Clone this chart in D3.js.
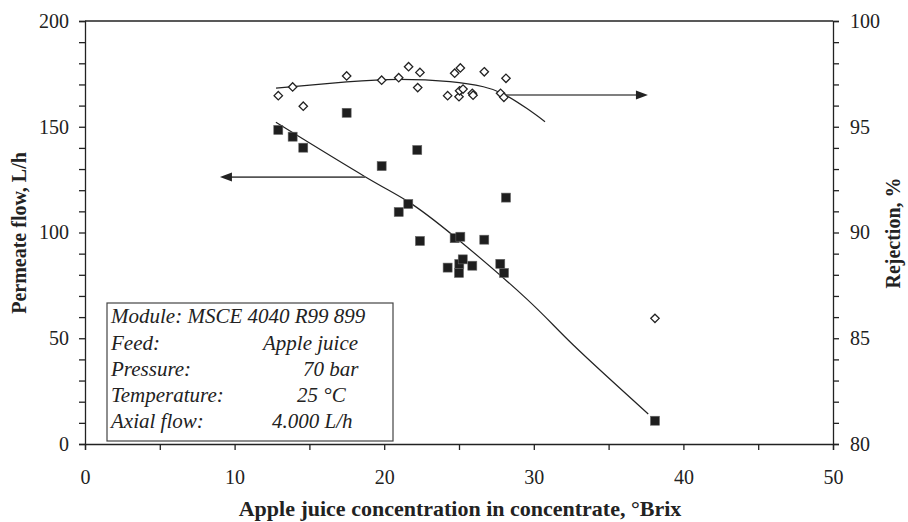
<!DOCTYPE html>
<html>
<head>
<meta charset="utf-8">
<script src="https://cdn.jsdelivr.net/npm/d3@7"></script>
<style>
  body { margin: 0; background: #fff; }
  svg text { font-family: "Liberation Serif", "Times New Roman", serif; fill: #222; }
  .axis path, .axis line { stroke: #222; stroke-width: 1.3; }
  .axis text { font-size: 20px; }
  .axisTitle { font-size: 20px; font-weight: bold; }
  .note { font-size: 21px; font-style: italic; }
</style>
</head>
<body>
<div id="chart"></div>
<script>
// samples: Brix, permeate flow (L/h)
var flowBrix = [12.92, 13.88, 14.59, 17.49, 19.83, 20.97, 21.61, 22.21, 22.39, 24.24, 24.71,
  25.09, 25.02, 25.0, 25.25, 25.89, 26.69, 27.76, 28.01, 28.14, 38.1];
var flow = [148.5, 145.3, 140.1, 156.6, 131.4, 109.7, 113.5, 139.0, 96.0, 83.4, 97.3,
  98.0, 85.1, 80.9, 87.3, 84.3, 96.6, 85.2, 80.9, 116.5, 11.0];

// samples: Brix, rejection (%)
var rejBrix = [12.92, 13.88, 14.59, 17.49, 19.83, 20.97, 21.63, 22.39, 22.24, 24.24, 24.71,
  25.09, 25.0, 25.04, 25.27, 25.89, 25.94, 26.69, 27.78, 28.0, 28.14, 38.1];
var rejection = [96.47, 96.88, 95.97, 97.40, 97.20, 97.32, 97.84, 97.57, 96.85, 96.47, 97.53,
  97.78, 96.42, 96.70, 96.78, 96.58, 96.49, 97.60, 96.58, 96.39, 97.29, 85.94];

// trend curves
var flowTrendBrix = [12.76, 18.72, 21.6, 24.71, 29.52, 32.64, 37.65];
var flowTrend = [152.1, 126.4, 114.6, 98.0, 68.6, 46.8, 14.2];
var rejTrendBrix = [12.77, 17.49, 21.0, 24.4, 26.63, 27.97, 29.52, 30.75];
var rejTrend = [96.83, 97.12, 97.24, 97.13, 96.89, 96.55, 95.87, 95.24];

// arrows: [from, to] in Brix, at a level on their own axis
var flowArrowBrix = [18.72, 9.02], flowArrowLevel = 126.2;
var rejArrowBrix = [28.07, 37.63], rejArrowLevel = 96.5;

var noteLabels = ["Feed:", "Pressure:", "Temperature:", "Axial flow:"];
var noteValues = ["Apple juice", "70 bar", "25 \u00B0C", "4.000 L/h"];
var noteValueX = [263, 303, 297, 272];

var svgWidth = 908;
var svgHeight = 522;

var margin = { top: 21, right: 75, bottom: 78, left: 85 };
var width = svgWidth - margin.left - margin.right;
var height = svgHeight - margin.top - margin.bottom;

var svg = d3.select("#chart")
  .append("svg")
  .attr("width", svgWidth)
  .attr("height", svgHeight);

var chartGroup = svg.append("g")
  .attr("transform", `translate(${margin.left}, ${margin.top})`);

var x = d3.scaleLinear().domain([0, 50]).range([0, width]);
var yLeft = d3.scaleLinear().domain([0, 200]).range([height, 0]);
var yRight = d3.scaleLinear().domain([80, 100]).range([height, 0]);

// top frame line
chartGroup.append("line")
  .attr("x1", 0).attr("x2", width)
  .attr("y1", 0).attr("y2", 0)
  .attr("stroke", "#222").attr("stroke-width", 1.3);

var bottomAxis = d3.axisBottom(x)
  .tickValues(d3.range(0, 51, 5))
  .tickFormat(d => d % 10 === 0 ? d : "")
  .tickSizeOuter(0).tickSize(6).tickPadding(20);

var leftAxis = d3.axisLeft(yLeft)
  .tickValues(d3.range(0, 201, 10))
  .tickFormat(d => d % 50 === 0 ? d : "")
  .tickSizeOuter(0).tickSize(6).tickPadding(10);

var rightAxis = d3.axisRight(yRight)
  .tickValues(d3.range(80, 101, 1))
  .tickFormat(d => d % 5 === 0 ? d : "")
  .tickSizeOuter(0).tickSize(6).tickPadding(11);

chartGroup.append("g").attr("class", "axis")
  .attr("transform", `translate(0, ${height})`)
  .call(bottomAxis);

chartGroup.append("g").attr("class", "axis")
  .call(leftAxis);

chartGroup.append("g").attr("class", "axis")
  .attr("transform", `translate(${width}, 0)`)
  .call(rightAxis);

chartGroup.selectAll(".axis").attr("font-family", null).attr("font-size", null);
chartGroup.selectAll(".axis text").attr("fill", "#222");

// trend lines
var flowLine = d3.line()
  .x((d, i) => x(flowTrendBrix[i]))
  .y(d => yLeft(d))
  .curve(d3.curveNatural);

var rejLine = d3.line()
  .x((d, i) => x(rejTrendBrix[i]))
  .y(d => yRight(d))
  .curve(d3.curveNatural);

chartGroup.append("path")
  .attr("d", flowLine(flowTrend))
  .attr("fill", "none").attr("stroke", "#222").attr("stroke-width", 1.2);

chartGroup.append("path")
  .attr("d", rejLine(rejTrend))
  .attr("fill", "none").attr("stroke", "#222").attr("stroke-width", 1.2);

// arrows
function arrow(x1, x2, yy) {
  var dir = x2 > x1 ? 1 : -1;
  chartGroup.append("line")
    .attr("x1", x1).attr("x2", x2 - dir * 8)
    .attr("y1", yy).attr("y2", yy)
    .attr("stroke", "#555").attr("stroke-width", 1.6);
  chartGroup.append("path")
    .attr("d", `M${x2},${yy}L${x2 - dir * 12},${yy - 4.5}L${x2 - dir * 12},${yy + 4.5}Z`)
    .attr("fill", "#222");
}
arrow(x(flowArrowBrix[0]), x(flowArrowBrix[1]), yLeft(flowArrowLevel));
arrow(x(rejArrowBrix[0]), x(rejArrowBrix[1]), yRight(rejArrowLevel));

// permeate flow squares
chartGroup.selectAll(".sq")
  .data(flow)
  .enter()
  .append("rect")
  .attr("class", "sq")
  .attr("x", (d, i) => x(flowBrix[i]) - 4.5)
  .attr("y", d => yLeft(d) - 4.5)
  .attr("width", 9)
  .attr("height", 9)
  .attr("fill", "#1e1e1e")
  .attr("stroke", "#666")
  .attr("stroke-width", 0.6);

// rejection diamonds
chartGroup.selectAll(".dm")
  .data(rejection)
  .enter()
  .append("path")
  .attr("class", "dm")
  .attr("transform", (d, i) => `translate(${x(rejBrix[i])}, ${yRight(d)})`)
  .attr("d", "M0,-4.2L4.2,0L0,4.2L-4.2,0Z")
  .attr("fill", "#fff")
  .attr("stroke", "#222")
  .attr("stroke-width", 1.3);

// note box
svg.append("rect")
  .attr("x", 107).attr("y", 303)
  .attr("width", 286).attr("height", 138)
  .attr("fill", "#fff").attr("stroke", "#444").attr("stroke-width", 1.2);

svg.append("text")
  .attr("class", "note")
  .attr("x", 111).attr("y", 323)
  .text("Module: MSCE 4040 R99 899");

noteLabels.forEach(function(t, i) {
  svg.append("text")
    .attr("class", "note")
    .attr("x", 111).attr("y", 350 + i * 26)
    .text(t);
  svg.append("text")
    .attr("class", "note")
    .attr("x", noteValueX[i]).attr("y", 350 + i * 26)
    .text(noteValues[i]);
});

// axis titles
svg.append("text")
  .attr("class", "axisTitle")
  .attr("transform", "translate(26, 233) rotate(-90)")
  .attr("text-anchor", "middle")
  .text("Permeate flow, L/h");

svg.append("text")
  .attr("class", "axisTitle")
  .attr("transform", "translate(900, 233) rotate(-90)")
  .attr("text-anchor", "middle")
  .text("Rejection, %");

svg.append("text")
  .attr("class", "axisTitle")
  .attr("x", 460).attr("y", 516)
  .attr("text-anchor", "middle")
  .style("font-size", "22px")
  .text("Apple juice concentration in concentrate, \u00B0Brix");
</script>
</body>
</html>
